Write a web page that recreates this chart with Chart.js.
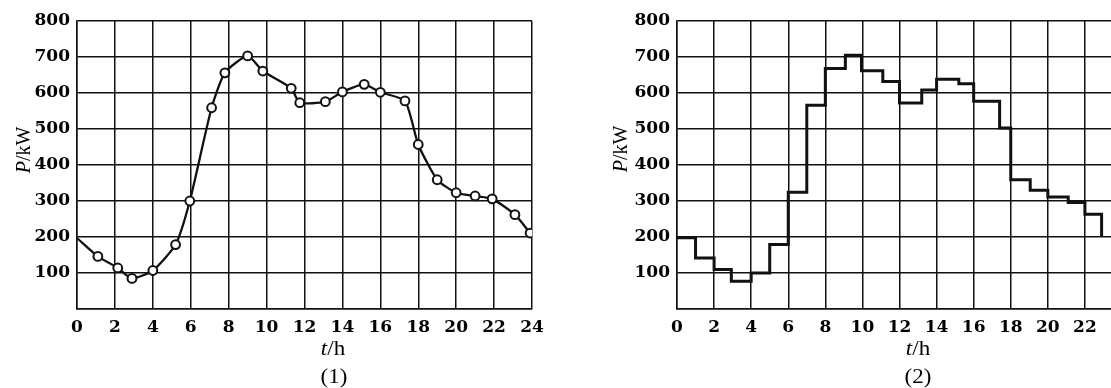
<!DOCTYPE html>
<html>
<head>
<meta charset="utf-8">
<script src="https://cdn.jsdelivr.net/npm/chart.js@4/dist/chart.umd.min.js"></script>
<style>
  html, body { margin: 0; padding: 0; background: #fff; width: 1111px; height: 388px; overflow: hidden; }
  .panel { position: absolute; top: 0; width: 560px; height: 388px; }
  #p1 { left: 0; }
  #p2 { left: 590px; }
</style>
</head>
<body>
<div class="panel" id="p1"><canvas id="c1" width="560" height="388"></canvas></div>
<div class="panel" id="p2"><canvas id="c2" width="560" height="388"></canvas></div>
<script>
// Axis ticks (hours, kW)
const hourTicks1 = [0, 2, 4, 6, 8, 10, 12, 14, 16, 18, 20, 22, 24];
const hourTicks2 = [0, 2, 4, 6, 8, 10, 12, 14, 16, 18, 20, 22];
const powerTicks = [0, 100, 200, 300, 400, 500, 600, 700, 800];

// (1) daily load curve: time of each reading (h) and load (kW)
const curveHours = [0, 1.1, 2.15, 2.9, 4.0, 5.2, 5.95, 7.1, 7.8, 9.0, 9.8, 11.3, 11.75, 13.1, 14.0, 15.15, 16.0, 17.3, 18.0, 19.0, 20.0, 21.0, 21.9, 23.1, 23.9];
const curveLoad  = [197, 146, 114, 85, 107, 179, 300, 559, 656, 703, 661, 613, 573, 576, 603, 624, 602, 578, 457, 359, 323, 314, 306, 262, 211];

// (2) stepped hourly load: hour at which each level starts (h) and its load (kW)
const stepHours = [0, 1, 2, 2.93, 4, 5, 6, 7, 8, 9.08, 9.95, 11.1, 12, 13.2, 14, 15.2, 16, 17.4, 18, 19.05, 20, 21.1, 22, 22.9];
const stepLoad  = [198, 142, 110, 77, 100, 179, 324, 566, 668, 705, 662, 632, 572, 608, 638, 626, 577, 503, 359, 330, 311, 296, 263, 200];

const INK = '#111';
const tickFont = { family: "'DejaVu Serif', serif", size: 17, weight: 'bold' };
const textFamily = "'Liberation Serif', 'Times New Roman', serif";

// Axis titles and panel captions, with the italic quantity symbol
const captionPlugin = {
  id: 'captions',
  afterDraw(chart, args, opts) {
    const ctx = chart.ctx;
    const italic = `italic 20px ${textFamily}`;
    const upright = `20px ${textFamily}`;
    const drawPair = (sym, unit) => {
      ctx.font = italic; const w1 = ctx.measureText(sym).width;
      ctx.font = upright; const w2 = ctx.measureText(unit).width;
      const x0 = -(w1 + w2) / 2;
      ctx.font = italic; ctx.fillText(sym, x0, 0);
      ctx.font = upright; ctx.fillText(unit, x0 + w1, 0);
    };
    ctx.save();
    ctx.fillStyle = '#000';
    ctx.textAlign = 'left';
    ctx.textBaseline = 'middle';
    // y title, rotated
    ctx.save();
    ctx.translate(opts.yTitle[0], opts.yTitle[1]);
    ctx.rotate(-Math.PI / 2);
    drawPair('P', '/kW');
    ctx.restore();
    // x title, slightly widened like the tick figures
    ctx.save();
    ctx.textBaseline = 'alphabetic';
    ctx.translate(opts.xTitle[0], opts.xTitle[1]);
    ctx.scale(1.15, 1);
    drawPair('t', '/h');
    ctx.restore();
    // panel caption
    ctx.save();
    ctx.textBaseline = 'alphabetic';
    ctx.textAlign = 'center';
    ctx.translate(opts.caption[0], opts.caption[1]);
    ctx.scale(1.15, 1);
    ctx.font = upright;
    ctx.fillText(opts.label, 0, 0);
    ctx.restore();
    ctx.restore();
  }
};

function axes(xTickValues) {
  return {
    x: {
      type: 'linear', min: 0, max: 24,
      afterBuildTicks: s => { s.ticks = xTickValues.map(v => ({ value: v })); },
      afterFit: s => { s.height = 79; },
      grid: { color: INK, lineWidth: 1.5, drawTicks: false },
      border: { color: INK, width: 1.5 },
      ticks: { color: '#000', font: tickFont, padding: 8, maxRotation: 0, autoSkip: false,
               callback: v => String(v) }
    },
    y: {
      type: 'linear', min: 0, max: 800,
      afterBuildTicks: s => { s.ticks = powerTicks.map(v => ({ value: v })); },
      afterFit: s => { s.width = 77; },
      grid: { color: INK, lineWidth: 1.5, drawTicks: false },
      border: { color: INK, width: 1.5 },
      ticks: { color: '#000', font: tickFont, padding: 7,
               callback: v => (v === 0 ? '' : String(v)) }
    }
  };
}

function baseOptions(padLeft) {
  return {
    responsive: false,
    animation: false,
    devicePixelRatio: 1,
    layout: { padding: { left: padLeft, top: 21, right: 28, bottom: 0 } },
    plugins: { legend: { display: false }, tooltip: { enabled: false } }
  };
}

const opts1 = baseOptions(0);
opts1.scales = axes(hourTicks1);
opts1.plugins.captions = { yTitle: [25, 150], xTitle: [333, 355], caption: [334, 383], label: '(1)' };

new Chart(document.getElementById('c1'), {
  type: 'line',
  data: {
    datasets: [{
      data: curveHours.map((h, i) => ({ x: h, y: curveLoad[i] })),
      borderColor: INK,
      borderWidth: 2.3,
      tension: 0.2,
      pointRadius: curveHours.map((h, i) => (i === 0 ? 0 : 4.4)),
      pointBorderWidth: 2,
      pointBorderColor: INK,
      pointBackgroundColor: '#fff',
      fill: false
    }]
  },
  options: opts1,
  plugins: [captionPlugin]
});

const opts2 = baseOptions(10);
opts2.scales = axes(hourTicks2);
opts2.plugins.captions = { yTitle: [32, 149], xTitle: [328, 355], caption: [328, 383], label: '(2)' };

new Chart(document.getElementById('c2'), {
  type: 'line',
  data: {
    datasets: [{
      data: stepHours.map((h, i) => ({ x: h, y: stepLoad[i] })),
      borderColor: INK,
      borderWidth: 3,
      stepped: 'before',
      pointRadius: 0,
      fill: false
    }]
  },
  options: opts2,
  plugins: [captionPlugin]
});
</script>
</body>
</html>
